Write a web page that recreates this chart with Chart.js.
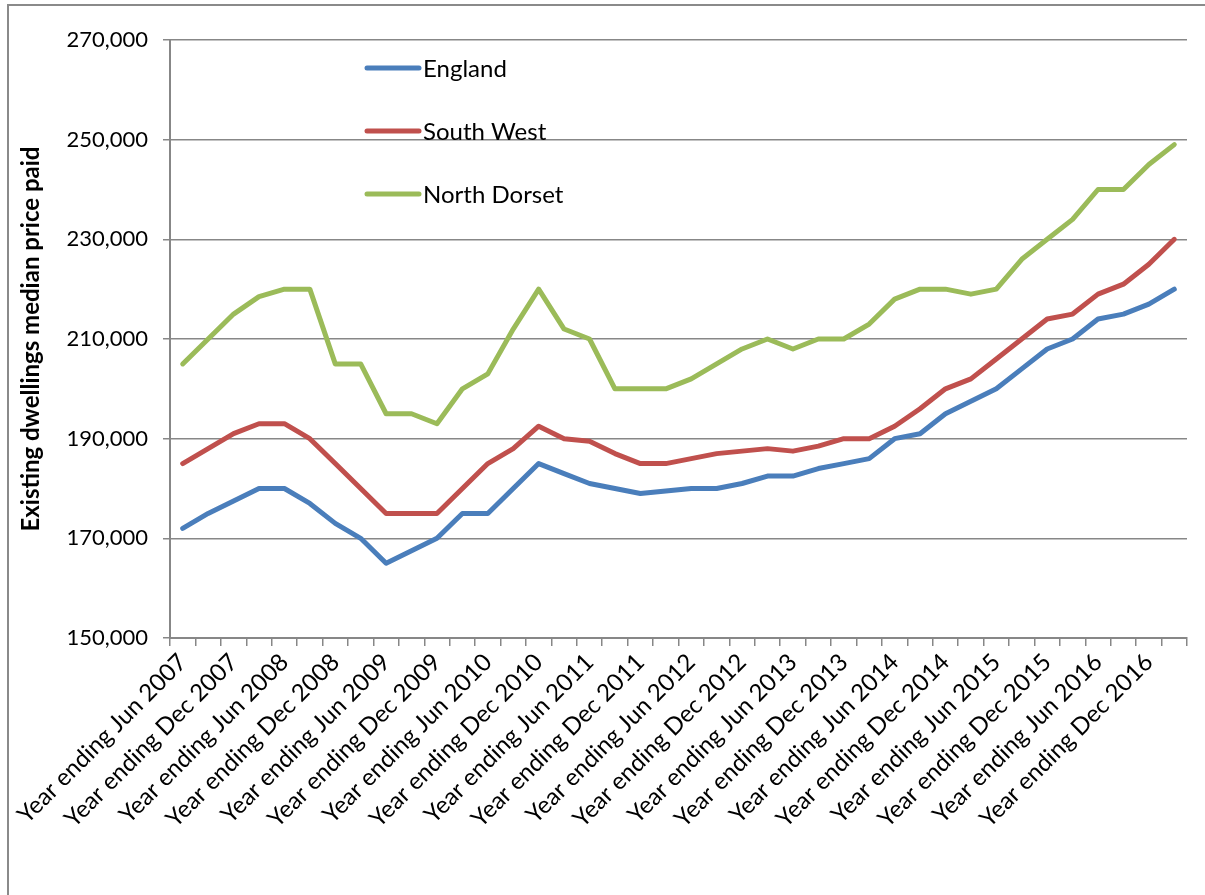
<!DOCTYPE html>
<html>
<head>
<meta charset="utf-8">
<script src="https://cdn.jsdelivr.net/npm/chart.js@4.4.1/dist/chart.umd.min.js"></script>
<style>
    html, body { margin: 0; padding: 0; background: #fff; }
    #wrap { position: relative; width: 1205px; height: 895px; overflow: hidden; }
    #frame { position: absolute; left: 7px; top: 4px; width: 1300px; height: 1000px;
             border: 2px solid #8a8a8a; box-sizing: border-box; pointer-events: none; }
    canvas { position: absolute; left: 0; top: 0; }
</style>
</head>
<body>
<div id="wrap">
    <canvas id="priceChart" width="1205" height="895"></canvas>
    <div id="frame"></div>
</div>
<script>
const labels = [
    "Year ending Jun 2007", "Year ending Sep 2007", "Year ending Dec 2007", "Year ending Mar 2008",
    "Year ending Jun 2008", "Year ending Sep 2008", "Year ending Dec 2008", "Year ending Mar 2009",
    "Year ending Jun 2009", "Year ending Sep 2009", "Year ending Dec 2009", "Year ending Mar 2010",
    "Year ending Jun 2010", "Year ending Sep 2010", "Year ending Dec 2010", "Year ending Mar 2011",
    "Year ending Jun 2011", "Year ending Sep 2011", "Year ending Dec 2011", "Year ending Mar 2012",
    "Year ending Jun 2012", "Year ending Sep 2012", "Year ending Dec 2012", "Year ending Mar 2013",
    "Year ending Jun 2013", "Year ending Sep 2013", "Year ending Dec 2013", "Year ending Mar 2014",
    "Year ending Jun 2014", "Year ending Sep 2014", "Year ending Dec 2014", "Year ending Mar 2015",
    "Year ending Jun 2015", "Year ending Sep 2015", "Year ending Dec 2015", "Year ending Mar 2016",
    "Year ending Jun 2016", "Year ending Sep 2016", "Year ending Dec 2016", "Year ending Mar 2017"
];

const england = [
    172000, 175000, 177500, 180000, 180000, 177000, 173000, 170000,
    165000, 167500, 170000, 175000, 175000, 180000, 185000, 183000,
    181000, 180000, 179000, 179500, 180000, 180000, 181000, 182500,
    182500, 184000, 185000, 186000, 190000, 191000, 195000, 197500,
    200000, 204000, 208000, 210000, 214000, 215000, 217000, 220000
];

const southWest = [
    185000, 188000, 191000, 193000, 193000, 190000, 185000, 180000,
    175000, 175000, 175000, 180000, 185000, 188000, 192500, 190000,
    189500, 187000, 185000, 185000, 186000, 187000, 187500, 188000,
    187500, 188500, 190000, 190000, 192500, 196000, 200000, 202000,
    206000, 210000, 214000, 215000, 219000, 221000, 225000, 230000
];

const northDorset = [
    205000, 210000, 215000, 218500, 220000, 220000, 205000, 205000,
    195000, 195000, 193000, 200000, 203000, 212000, 220000, 212000,
    210000, 200000, 200000, 200000, 202000, 205000, 208000, 210000,
    208000, 210000, 210000, 213000, 218000, 220000, 220000, 219000,
    220000, 226000, 230000, 234000, 240000, 240000, 245000, 249000
];

const yTicks = [150000, 170000, 190000, 210000, 230000, 250000, 270000];

const FONT = "Lato, 'Open Sans', sans-serif";
const GRID = '#878787';

// legend drawn inside the plot, stacked vertically
const insideLegend = {
    id: 'insideLegend',
    afterDraw(chart) {
        const ctx = chart.ctx;
        const area = chart.chartArea;
        const x0 = area.left + 197;
        let y = area.top + 28;
        ctx.save();
        ctx.font = '24px ' + FONT;
        ctx.textBaseline = 'middle';
        chart.data.datasets.forEach(ds => {
            ctx.strokeStyle = ds.borderColor;
            ctx.lineWidth = 5;
            ctx.lineCap = 'round';
            ctx.beginPath();
            ctx.moveTo(x0, y);
            ctx.lineTo(x0 + 52, y);
            ctx.stroke();
            ctx.fillStyle = '#000';
            ctx.fillText(ds.label, x0 + 56, y + 1);
            y += 63;
        });
        ctx.restore();
    }
};

const lineStyle = {
    borderWidth: 5,
    pointRadius: 0,
    pointHoverRadius: 0,
    tension: 0,
    fill: false,
    borderCapStyle: 'round',
    borderJoinStyle: 'round'
};

const ctx = document.getElementById('priceChart').getContext('2d');
new Chart(ctx, {
    type: 'line',
    data: {
        labels: labels,
        datasets: [
            { label: 'England', data: england, borderColor: '#4a7ebb', ...lineStyle },
            { label: 'South West', data: southWest, borderColor: '#c0504d', ...lineStyle },
            { label: 'North Dorset', data: northDorset, borderColor: '#9bbb59', ...lineStyle }
        ]
    },
    options: {
        responsive: false,
        animation: false,
        layout: { padding: { top: 40, right: 18, bottom: 0, left: 0 } },
        plugins: {
            legend: { display: false },
            tooltip: { enabled: false }
        },
        scales: {
            x: {
                offset: true,
                grid: { offset: true, drawOnChartArea: false, drawTicks: true, tickLength: 8, color: GRID, lineWidth: 1.5 },
                border: { color: GRID, width: 2 },
                ticks: {
                    autoSkip: false,
                    minRotation: 45,
                    maxRotation: 45,
                    padding: 2,
                    color: '#000',
                    font: { family: FONT, size: 24 },
                    callback: (val, i) => (i % 2 === 0 ? labels[i] : '')
                },
                afterFit(scale) { scale.height = 257; }
            },
            y: {
                min: 150000,
                max: 270000,
                afterBuildTicks(scale) { scale.ticks = yTicks.map(v => ({ value: v })); },
                grid: { color: GRID, lineWidth: 1.5, tickLength: 7 },
                border: { color: GRID, width: 2 },
                ticks: {
                    padding: 15,
                    color: '#000',
                    font: { family: FONT, size: 22 },
                    callback: v => v.toLocaleString('en-GB')
                },
                title: {
                    display: true,
                    text: 'Existing dwellings median price paid',
                    color: '#000',
                    font: { family: FONT, size: 24, weight: 'bold' },
                    padding: { top: 17, bottom: 0 }
                },
                afterFit(scale) { scale.width = 170; }
            }
        }
    },
    plugins: [insideLegend]
});
</script>
</body>
</html>
